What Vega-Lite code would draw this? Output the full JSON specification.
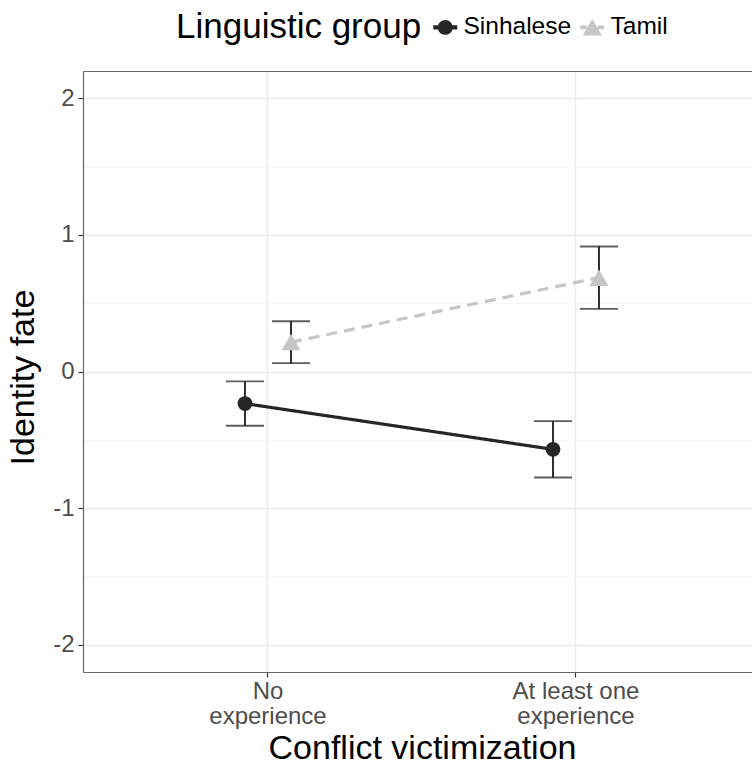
{
  "$schema": "https://vega.github.io/schema/vega-lite/v6.json",
  "autosize": {"type": "none"},
  "padding": {"left": 83, "top": 71, "right": 0, "bottom": 92},
  "width": 669,
  "height": 601,
  "background": "white",
  "config": {
    "font": "Liberation Sans",
    "view": {"stroke": null},
    "axis": {"labelFont": "Liberation Sans", "titleFont": "Liberation Sans"},
    "legend": {"labelFont": "Liberation Sans", "titleFont": "Liberation Sans"}
  },
  "data": {
    "values": [
      {"victim": "No experience", "group": "Sinhalese", "mean": -0.235, "lo": -0.397, "hi": -0.073},
      {"victim": "At least one experience", "group": "Sinhalese", "mean": -0.57, "lo": -0.776, "hi": -0.364},
      {"victim": "No experience", "group": "Tamil", "mean": 0.215, "lo": 0.061, "hi": 0.368},
      {"victim": "At least one experience", "group": "Tamil", "mean": 0.687, "lo": 0.459, "hi": 0.915}
    ]
  },
  "resolve": {"axis": {"x": "independent"}},
  "layer": [
    {
      "mark": {"type": "line", "strokeWidth": 3.2},
      "encoding": {
        "x": {
          "field": "victim", "type": "nominal", "sort": ["No experience", "At least one experience"],
          "scale": {"type": "band", "paddingInner": 0.7013, "paddingOuter": 0.4367, "align": 0.5167},
          "title": "Conflict victimization",
          "axis": {
            "orient": "bottom", "domain": true, "domainColor": "#666666", "domainWidth": 1.2,
            "grid": true, "gridColor": "#ebebeb", "gridWidth": 1.3, "bandPosition": 0.5,
            "ticks": true, "tickSize": 5, "tickColor": "#333333", "tickWidth": 1.2,
            "labelAngle": 0, "labelFontSize": 24, "labelColor": "#4d4d4d", "labelPadding": 2,
            "labelLineHeight": 25, "labelBaseline": "top",
            "labelExpr": "datum.value == 'No experience' ? ['No', 'experience'] : ['At least one', 'experience']",
            "titleFontSize": 34, "titleFontWeight": "normal", "titleColor": "#000000",
            "titleX": 339, "titleY": 86, "titleBaseline": "alphabetic"
          }
        },
        "xOffset": {"field": "group", "type": "nominal", "scale": {"paddingInner": 0, "paddingOuter": 0}},
        "y": {
          "field": "mean", "type": "quantitative", "title": "Identity fate",
          "scale": {"domain": [-2.2, 2.2], "nice": false, "zero": false},
          "axis": {
            "values": [-2, -1.5, -1, -0.5, 0, 0.5, 1, 1.5, 2],
            "domain": true, "domainColor": "#666666", "domainWidth": 1.2,
            "grid": true,
            "gridColor": {"condition": {"test": "datum.value % 1 !== 0", "value": "#f3f3f3"}, "value": "#ebebeb"},
            "gridWidth": {"condition": {"test": "datum.value % 1 !== 0", "value": 0.8}, "value": 1.3},
            "ticks": true, "tickSize": 5, "tickColor": "#333333", "tickWidth": 1.2,
            "tickOpacity": {"condition": {"test": "datum.value % 1 !== 0", "value": 0}, "value": 1},
            "labelExpr": "datum.value % 1 === 0 ? '' + datum.value : ''",
            "labelOverlap": false, "labelFlush": false,
            "labelFontSize": 24, "labelColor": "#4d4d4d", "labelPadding": 4,
            "titleFontSize": 34, "titleFontWeight": "normal", "titleColor": "#000000",
            "titlePadding": 12, "titleY": 306
          }
        },
        "detail": {"field": "group", "type": "nominal"},
        "color": {"condition": {"test": "datum.group === 'Tamil'", "value": "#c6c6c6"}, "value": "#262626"},
        "strokeDash": {"condition": {"test": "datum.group === 'Tamil'", "value": [11, 7]}, "value": [1, 0]}
      }
    },
    {
      "mark": {"type": "rule", "strokeWidth": 1.8, "color": "#1a1a1a"},
      "encoding": {
        "x": {"field": "victim", "type": "nominal", "sort": ["No experience", "At least one experience"], "axis": null},
        "xOffset": {"field": "group", "type": "nominal"},
        "y": {"field": "lo", "type": "quantitative", "title": "Identity fate"},
        "y2": {"field": "hi"}
      }
    },
    {
      "mark": {"type": "tick", "orient": "horizontal", "size": 38, "thickness": 1.8, "color": "#1a1a1a"},
      "encoding": {
        "x": {"field": "victim", "type": "nominal", "sort": ["No experience", "At least one experience"], "axis": null},
        "xOffset": {"field": "group", "type": "nominal"},
        "y": {"field": "lo", "type": "quantitative", "title": "Identity fate"}
      }
    },
    {
      "mark": {"type": "tick", "orient": "horizontal", "size": 38, "thickness": 1.8, "color": "#1a1a1a"},
      "encoding": {
        "x": {"field": "victim", "type": "nominal", "sort": ["No experience", "At least one experience"], "axis": null},
        "xOffset": {"field": "group", "type": "nominal"},
        "y": {"field": "hi", "type": "quantitative", "title": "Identity fate"}
      }
    },
    {
      "mark": {"type": "point", "filled": true, "opacity": 1},
      "encoding": {
        "x": {"field": "victim", "type": "nominal", "sort": ["No experience", "At least one experience"], "axis": null},
        "xOffset": {"field": "group", "type": "nominal"},
        "y": {"field": "mean", "type": "quantitative", "title": "Identity fate"},
        "color": {"condition": {"test": "datum.group === 'Tamil'", "value": "#c6c6c6"}, "value": "#262626"},
        "shape": {"condition": {"test": "datum.group === 'Tamil'", "value": "triangle-up"}, "value": "circle"},
        "size": {"condition": {"test": "datum.group === 'Tamil'", "value": 360}, "value": 220}
      }
    },
    {
      "mark": {"type": "point", "filled": true, "opacity": 0, "size": 576},
      "encoding": {
        "x": {
          "field": "victim", "type": "nominal", "sort": ["No experience", "At least one experience"],
          "axis": {"orient": "top", "domain": true, "domainColor": "#666666", "domainWidth": 1.2,
                   "labels": false, "ticks": false, "grid": false, "title": null}
        },
        "xOffset": {"field": "group", "type": "nominal"},
        "y": {"field": "mean", "type": "quantitative", "title": "Identity fate"},
        "color": {
          "field": "group", "type": "nominal", "title": "Linguistic group",
          "scale": {"domain": ["Sinhalese", "Tamil"], "range": ["#262626", "#c6c6c6"]},
          "legend": {
            "orient": "none", "direction": "horizontal", "columns": 2,
            "legendX": 93, "legendY": -56,
            "titleOrient": "left", "titleFontSize": 35, "titleFontWeight": "normal", "titleColor": "#000000",
            "titlePadding": 11, "titleBaseline": "middle", "titleAnchor": "middle", "titleLimit": 400,
            "labelFontSize": 24.5, "labelColor": "#000000", "labelOffset": 6,
            "symbolSize": 576, "symbolStrokeWidth": 0, "symbolOpacity": 1, "columnPadding": 8,
            "encode": {
              "symbols": {
                "update": {
                  "opacity": {"value": 1},
                  "fillOpacity": {"value": 1},
                  "size": {"value": 576}
                }
              }
            }
          }
        },
        "shape": {
          "field": "group", "type": "nominal", "title": "Linguistic group",
          "scale": {
            "domain": ["Sinhalese", "Tamil"],
            "range": [
              "M-1,-0.17H1V0.17H-1Z M0.62,0A0.62,0.62 0 1,1 -0.62,0A0.62,0.62 0 1,1 0.62,0Z",
              "M0,-0.7L0.8,0.68L-0.8,0.68Z M-1,-0.15H-0.45V0.15H-1Z M0.45,-0.15H1V0.15H0.45Z"
            ]
          }
        }
      }
    }
  ]
}
